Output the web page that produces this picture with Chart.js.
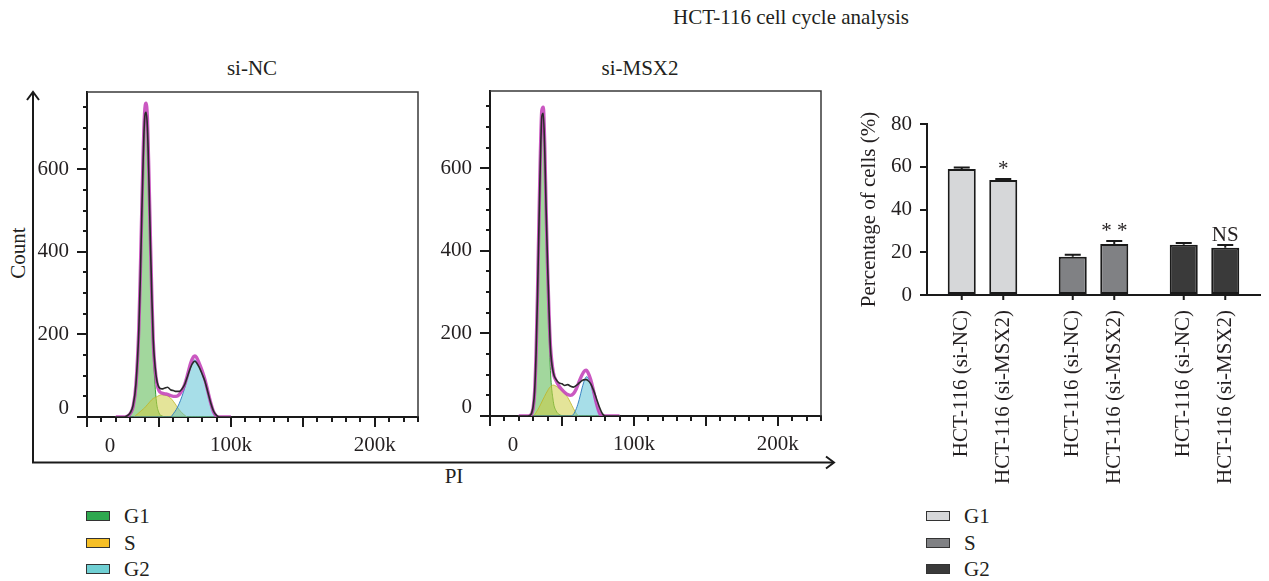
<!DOCTYPE html>
<html><head><meta charset="utf-8">
<script src="https://cdn.jsdelivr.net/npm/chart.js@4.4.0/dist/chart.umd.min.js"></script>
<style>
html,body{margin:0;padding:0;background:#fff;}
#root{position:relative;width:1269px;height:581px;overflow:hidden;font-family:'Liberation Serif','Times New Roman',serif;color:#231f20;}
.t{position:absolute;font-size:21px;line-height:24px;white-space:nowrap;transform:translate(-50%,-50%);}
.l{position:absolute;font-size:21px;line-height:24px;white-space:nowrap;transform:translate(0,-50%);}
canvas{position:absolute;}
.sw{position:absolute;width:22px;height:8px;border:1.5px solid #333;transform:translate(0,-50%);}
svg{position:absolute;left:0;top:0;}
</style></head><body><div id="root">
<svg width="1269" height="581">
  <g stroke="#1a1a1a" stroke-width="2" fill="none">
    <line x1="33" y1="92" x2="33" y2="463"/>
    <polyline points="27,100 33,92 39,100"/>
    <line x1="32" y1="462.5" x2="833" y2="462.5"/>
    <polyline points="826,456.5 834,462.5 826,468.5"/>
  </g>
</svg>
<div class="t" style="left:791px;top:17px;">HCT-116 cell cycle analysis</div>
<div class="t" style="left:252px;top:68px;">si-NC</div>
<div class="t" style="left:640px;top:68px;">si-MSX2</div>
<div class="t" style="left:18px;top:253px;transform:translate(-50%,-50%) rotate(-90deg);">Count</div>
<div class="t" style="left:454px;top:476px;">PI</div>
<canvas id="h1" width="400" height="390" style="left:20px;top:80px;width:400px;height:390px;"></canvas>
<canvas id="h2" width="400" height="390" style="left:423px;top:79px;width:400px;height:390px;"></canvas>
<canvas id="bars" width="429" height="400" style="left:840px;top:100px;width:429px;height:400px;"></canvas>
<div id="leg1"></div>
<div id="leg2"></div>
</div>
<script>
// ---------- data: flow cytometry histograms (PI in thousands, counts) ----------
const piK_NC   = [20,26,28,30,32,34,36,37,38,39,40,41,42,43,44,45,46,48,50,52,54,56,58,60,62,64,66,68,70,72,74,75,76,78,80,82,84,86,88,90,92,100];
const g1_NC    = [0,0,0,5,20,70,200,320,470,610,710,740,690,560,400,260,160,45,10,3,0, 0,0,0,0,0,0,0,0,0,0,0,0,0,0,0,0,0,0,0,0,0];
const s_NC     = [0,0,0,0,0,4,10,13,16,19,22,26,30,34,38,42,45,48,52,54,53, 51,46,38,28,18,10,4,0,0,0,0,0,0,0,0,0,0,0,0,0,0];
const g2_NC    = [0,0,0,0,0,0,0,0,0,0,0,0,0,0,0,0,0,0,0,0,0, 0,0,8,18,32,50,72,100,124,136,138,135,122,106,86,58,30,10,0,0,0];
const fit_NC   = [0,0,2,8,25,78,215,340,490,635,735,760,720,590,440,300,185,95,64,58,56, 55,52,50,50,54,64,80,104,130,146,148,145,130,112,90,62,34,12,2,0,0];
const count_NC = [0,0,3,10,28,80,210,330,480,620,720,738,700,580,430,300,190,100,72,68,70, 72,66,64,62,62,68,80,100,120,133,135,132,120,104,86,60,34,14,4,0,0];

const piK_MSX2   = [20,26,28,29,30,31,32,33,34,35,36,37,38,39,40,41,42,44,46,48,50,52,54,56,58,60,62,64,66,67,68,70,72,74,76,78,80,82,90];
const g1_MSX2    = [0,0,0,3,15,50,140,280,450,610,715,730,640,480,330,210,110,35,12,4,1,0,0,0,0,0,0,0,0,0,0,0,0,0,0,0,0,0,0];
const s_MSX2     = [0,0,0,0,0,3,8,14,20,27,34,41,48,55,61,67,71,75,72,67,62,55,45,32,18,6,0,0,0,0,0,0,0,0,0,0,0,0,0];
const g2_MSX2    = [0,0,0,0,0,0,0,0,0,0,0,0,0,0,0,0,0,0,0,0,0,0,0,0,4,18,40,68,90,95,93,78,52,25,6,0,0,0,0];
const fit_MSX2   = [0,0,2,6,20,58,150,295,470,635,740,748,660,500,360,250,170,105,85,72,64,57,52,50,54,66,84,100,110,111,106,88,60,30,8,0,0,0,0];
const count_MSX2 = [0,0,2,8,24,60,150,290,460,620,725,733,650,500,370,260,165,105,88,80,78,74,76,72,70,74,80,86,88,88,86,78,62,42,22,6,0,0,0];

const histXTicks = {min:0, max:230, step:10, major:50, labels:{100:'100k',200:'200k'}};
const histYTicks = {min:0, max:787, step:50, major:200, top:750};

// ---------- data: bar chart ----------
const phases    = ['G1','S','G2'];
const groups    = ['HCT-116 (si-NC)','HCT-116 (si-MSX2)'];
const siNC      = [59.0, 17.9, 23.5];
const siMSX2    = [53.8, 23.9, 22.1];
const errNC     = [0.7, 0.9, 0.8];
const errMSX2   = [0.5, 1.4, 1.3];
const signif    = ['*','* *','NS'];
const barYTicks = [0,20,40,60,80];

// ---------- styles ----------
const FONT = "'Liberation Serif','Times New Roman',serif";
const FS = 21;
const INK = '#231f20';
const phaseFill = {G1:'rgba(70,175,60,0.5)', S:'rgba(205,205,70,0.55)', G2:'rgba(80,190,210,0.5)'};
const phaseLine = {G1:'rgba(40,150,40,0.9)', S:'rgba(190,180,40,0.8)', G2:'rgba(40,120,190,0.9)'};
const legendPanel = {G1:'#2ea84f', S:'#f6bf26', G2:'#6fcfd3'};
const legendBars  = {G1:'#d6d7d9', S:'#808184', G2:'#3a3a3a'};

Chart.defaults.font.family = FONT;
Chart.defaults.font.size = FS;
Chart.defaults.color = INK;
Chart.defaults.animation = false;

function pts(xs, ys){ return xs.map((x,i)=>({x:x, y:ys[i]})); }

const histFrame = {
  id:'histFrame',
  afterDraw(chart){
    const {ctx, chartArea:a, scales:{x,y}} = chart;
    ctx.save();
    ctx.strokeStyle='#3a3a3a'; ctx.lineWidth=1.5;
    ctx.beginPath(); ctx.moveTo(a.left,a.top); ctx.lineTo(a.right,a.top); ctx.lineTo(a.right,a.bottom); ctx.stroke();
    ctx.strokeStyle='#1a1a1a'; ctx.lineWidth=2;
    ctx.beginPath();
    for(let v=histXTicks.min; v<=histXTicks.max; v+=histXTicks.step){
      const px=Math.round(x.getPixelForValue(v));
      const len = v%histXTicks.major===0 ? 10 : 5;
      ctx.moveTo(px, a.bottom); ctx.lineTo(px, a.bottom+len);
    }
    for(let v=histYTicks.min; v<=histYTicks.top; v+=histYTicks.step){
      const py=Math.round(y.getPixelForValue(v));
      const len = v%histYTicks.major===0 ? 10 : 4;
      ctx.moveTo(a.left-len, py); ctx.lineTo(a.left, py);
    }
    ctx.stroke();
    ctx.font=FS+'px '+FONT; ctx.fillStyle=INK;
    ctx.textAlign='center'; ctx.textBaseline='middle';
    ctx.fillText('0', x.getPixelForValue(0)+23, a.bottom+29);
    ctx.textAlign='right';
    ctx.fillText('0', a.left-18, y.getPixelForValue(0)-9);
    ctx.restore();
  }
};

function histChart(id, xs, g1, s, g2, fit, cnt){
  const ds = (label, ys, opts)=>Object.assign({label, data:pts(xs,ys), pointRadius:0, cubicInterpolationMode:'monotone', tension:0.4}, opts);
  return new Chart(document.getElementById(id), {
    type:'line',
    data:{datasets:[
      ds('Count', cnt, {borderColor:'#2a2a2a', borderWidth:1.6, fill:false}),
      ds('Fit', fit, {borderColor:'rgba(196,70,186,0.9)', borderWidth:3.4, fill:false}),
      ds('G2', g2, {borderColor:phaseLine.G2, borderWidth:1, backgroundColor:phaseFill.G2, fill:'origin'}),
      ds('S', s, {borderColor:phaseLine.S, borderWidth:1, backgroundColor:phaseFill.S, fill:'origin'}),
      ds('G1', g1, {borderColor:phaseLine.G1, borderWidth:1, backgroundColor:phaseFill.G1, fill:'origin'})
    ]},
    options:{
      responsive:false, maintainAspectRatio:false,
      layout:{padding:{top:12, right:2, left:0, bottom:0}},
      plugins:{legend:{display:false}, tooltip:{enabled:false}},
      scales:{
        x:{type:'linear', min:histXTicks.min, max:histXTicks.max,
           grid:{display:false, drawTicks:false},
           border:{display:true, color:'#1a1a1a', width:2},
           ticks:{stepSize:histXTicks.step, autoSkip:false, maxRotation:0, padding:16,
                  callback:v=>histXTicks.labels[v]||''},
           afterFit:s=>{s.height=53; s.paddingLeft=0; s.paddingRight=0;}},
        y:{min:histYTicks.min, max:histYTicks.max,
           grid:{display:false, drawTicks:false},
           border:{display:true, color:'#1a1a1a', width:2},
           ticks:{stepSize:histYTicks.step, autoSkip:false, padding:18,
                  callback:v=>(v>0 && v%histYTicks.major===0)?String(v):''},
           afterFit:s=>{s.width=67; s.paddingTop=0; s.paddingBottom=0;}}
      }
    },
    plugins:[histFrame]
  });
}
histChart('h1', piK_NC, g1_NC, s_NC, g2_NC, fit_NC, count_NC);
histChart('h2', piK_MSX2, g1_MSX2, s_MSX2, g2_MSX2, fit_MSX2, count_MSX2);

// ---------- bar chart ----------
const barExtras = {
  id:'barExtras',
  afterDatasetsDraw(chart){
    const ctx=chart.ctx, y=chart.scales.y;
    const errs=[errNC, errMSX2];
    ctx.save();
    ctx.strokeStyle='#1a1a1a'; ctx.lineWidth=2;
    chart.data.datasets.forEach((d,di)=>{
      chart.getDatasetMeta(di).data.forEach((el,j)=>{
        const top=y.getPixelForValue(d.data[j]+errs[di][j]);
        ctx.beginPath();
        ctx.moveTo(el.x, el.y); ctx.lineTo(el.x, top);
        ctx.moveTo(el.x-8, top); ctx.lineTo(el.x+8, top);
        ctx.moveTo(el.x, y.bottom); ctx.lineTo(el.x, y.bottom+5);
        ctx.stroke();
        ctx.font=FS+'px '+FONT; ctx.fillStyle=INK;
        ctx.save(); ctx.translate(el.x, y.bottom+15); ctx.rotate(-Math.PI/2);
        ctx.textAlign='right'; ctx.textBaseline='middle';
        ctx.fillText(groups[di],0,0); ctx.restore();
        if(di===1){
          ctx.textAlign='center'; ctx.textBaseline='alphabetic';
          ctx.fillText(signif[j], el.x, top-4);
        }
      });
    });
    ctx.restore();
  }
};
new Chart(document.getElementById('bars'), {
  type:'bar',
  data:{labels:phases, datasets:[
    {label:groups[0], data:siNC, backgroundColor:phases.map(p=>legendBars[p]), borderColor:'#1a1a1a', borderWidth:2, borderSkipped:false},
    {label:groups[1], data:siMSX2, backgroundColor:phases.map(p=>legendBars[p]), borderColor:'#1a1a1a', borderWidth:2, borderSkipped:false}
  ]},
  options:{
    responsive:false, maintainAspectRatio:false,
    categoryPercentage:0.748, barPercentage:0.675,
    layout:{padding:{top:24, right:9, left:0, bottom:0}},
    plugins:{legend:{display:false}, tooltip:{enabled:false}},
    scales:{
      x:{grid:{display:false, drawTicks:false}, border:{display:true, color:'#1a1a1a', width:2},
         ticks:{display:false}, afterFit:s=>{s.height=205; s.paddingLeft=0; s.paddingRight=0;}},
      y:{min:0, max:80, afterBuildTicks:s=>{s.ticks=barYTicks.map(v=>({value:v}));},
         grid:{drawOnChartArea:false, drawTicks:true, tickLength:7, color:'#1a1a1a', lineWidth:2},
         border:{display:true, color:'#1a1a1a', width:2},
         ticks:{padding:8},
         title:{display:true, text:'Percentage of cells (%)', font:{size:FS}, padding:{top:17,bottom:0}},
         afterFit:s=>{s.width=87; s.paddingTop=0; s.paddingBottom=0;}}
    }
  },
  plugins:[barExtras]
});

// ---------- legends ----------
function legend(containerId, colors, left, textLeft, ys){
  const c=document.getElementById(containerId);
  phases.forEach((p,i)=>{
    const sw=document.createElement('div'); sw.className='sw';
    sw.style.left=left+'px'; sw.style.top=ys[i]+'px'; sw.style.background=colors[p];
    const tx=document.createElement('div'); tx.className='l';
    tx.style.left=textLeft+'px'; tx.style.top=ys[i]+'px'; tx.textContent=p;
    c.appendChild(sw); c.appendChild(tx);
  });
}
legend('leg1', legendPanel, 86, 124, [516,543,569]);
legend('leg2', legendBars, 926, 964, [516,543,569]);
</script>
</body></html>
